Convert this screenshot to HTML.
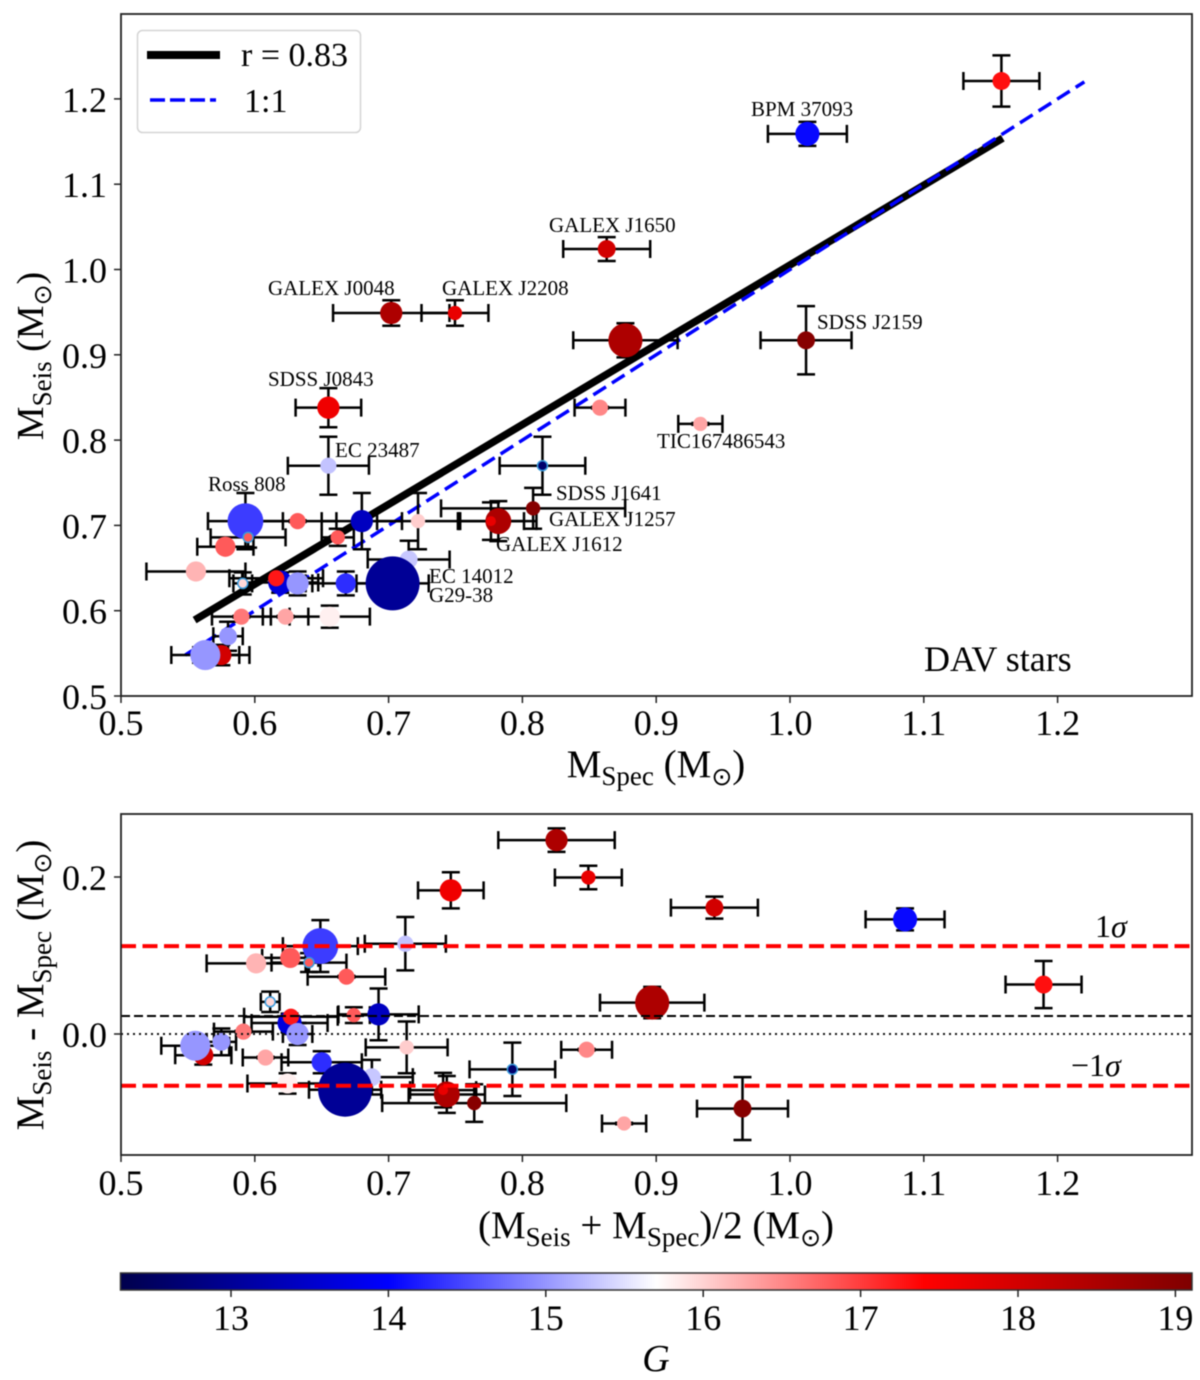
<!DOCTYPE html>
<html lang="en">
<head>
<meta charset="utf-8">
<title>DAV stars seismic vs spectroscopic mass</title>
<style>
html,body{margin:0;padding:0;background:#fff;}
svg{display:block;}
text{font-family:"Liberation Serif","DejaVu Serif",serif;fill:#000;}
.tick{font-size:36px;}
.axis{font-size:39px;}
.note{font-size:21px;}
</style>
</head>
<body>
<svg id="chart" xmlns="http://www.w3.org/2000/svg" width="1200" height="1380" viewBox="0 0 1200 1380">
  <defs>
    <linearGradient id="seismic" x1="0" x2="1" y1="0" y2="0">
      <stop offset="0" stop-color="rgb(0,0,76)"/>
      <stop offset="0.25" stop-color="rgb(0,0,255)"/>
      <stop offset="0.5" stop-color="rgb(255,255,255)"/>
      <stop offset="0.75" stop-color="rgb(255,0,0)"/>
      <stop offset="1" stop-color="rgb(127,0,0)"/>
    </linearGradient>
  </defs>
  <g id="root" style="filter:blur(0.45px)">
    <g id="top-lines"></g>
    <g id="top-bars"></g>
    <g id="top-points"></g>
    <g id="bottom-bars"></g>
    <g id="bottom-points"></g>
    <g id="bottom-lines"></g>
    <g id="axes"></g>

    <g>
      <text class="note" x="751" y="116">BPM 37093</text>
      <text class="note" x="549" y="232">GALEX J1650</text>
      <text class="note" x="268" y="295">GALEX J0048</text>
      <text class="note" x="442" y="295">GALEX J2208</text>
      <text class="note" x="817" y="329">SDSS J2159</text>
      <text class="note" x="268" y="386">SDSS J0843</text>
      <text class="note" x="657" y="448">TIC167486543</text>
      <text class="note" x="335" y="457">EC 23487</text>
      <text class="note" x="208" y="491">Ross 808</text>
      <text class="note" x="556" y="500">SDSS J1641</text>
      <text class="note" x="549" y="526">GALEX J1257</text>
      <text class="note" x="496" y="551">GALEX J1612</text>
      <text class="note" x="429" y="583">EC 14012</text>
      <text class="note" x="429" y="602">G29-38</text>
    </g>

    <g>
      <rect x="137.500" y="30.500" width="223" height="102" rx="5" fill="#fff" stroke="#d4d4d4" stroke-width="1.500"/>
      <line x1="147" x2="220" y1="55" y2="55" stroke="#000" stroke-width="8"/>
      <line x1="150" x2="216" y1="100" y2="100" stroke="#0000ff" stroke-width="3.500" stroke-dasharray="15 5"/>
      <text x="241" y="66" font-size="34">r = 0.83</text>
      <text x="244" y="112" font-size="34">1:1</text>
    </g>

    <text x="924" y="671" font-size="36">DAV stars</text>
    <text x="1095" y="937" font-size="32">1<tspan font-style="italic">σ</tspan></text>
    <text x="1071" y="1076" font-size="32">−1<tspan font-style="italic">σ</tspan></text>

    <text class="axis" x="656" y="777" text-anchor="middle">M<tspan font-size="27" dy="8">Spec</tspan><tspan dy="-8"> (M</tspan><tspan font-size="25" dy="8" font-family="DejaVu Sans">⊙</tspan><tspan dy="-8">)</tspan></text>
    <text class="axis" style="font-size:38px" transform="translate(43,356) rotate(-90)" text-anchor="middle">M<tspan font-size="27" dy="8">Seis</tspan><tspan dy="-8"> (M</tspan><tspan font-size="25" dy="8" font-family="DejaVu Sans">⊙</tspan><tspan dy="-8">)</tspan></text>
    <text class="axis" x="656" y="1238" text-anchor="middle">(M<tspan font-size="27" dy="8">Seis</tspan><tspan dy="-8"> + M</tspan><tspan font-size="27" dy="8">Spec</tspan><tspan dy="-8">)/2 (M</tspan><tspan font-size="25" dy="8" font-family="DejaVu Sans">⊙</tspan><tspan dy="-8">)</tspan></text>
    <text class="axis" transform="translate(43,985) rotate(-90)" text-anchor="middle">M<tspan font-size="27" dy="8">Seis</tspan><tspan dy="-8"> - M</tspan><tspan font-size="27" dy="8">Spec</tspan><tspan dy="-8"> (M</tspan><tspan font-size="25" dy="8" font-family="DejaVu Sans">⊙</tspan><tspan dy="-8">)</tspan></text>

    <rect x="120.500" y="1273" width="1071.500" height="17" fill="url(#seismic)" stroke="#333" stroke-width="1.500"/>
    <g id="colorbar-axis"></g>
    <text x="656" y="1371" font-size="38" font-style="italic" text-anchor="middle">G</text>
  </g>
</svg>
<script>
var starNames = ['wd-top-right','bpm-37093','galex-j1650','galex-j0048','galex-j2208','wd-0-88','sdss-j2159','wd-0-86','tic167486543','sdss-j0843','ec-23487','sdss-j1641','galex-j1257','galex-j1612','wd-0-78','ross-808','wd-0-60','wd-0-63','wd-0-68','wd-0-72','wd-0-66','wd-0-58a','wd-0-56','wd-0-59a','wd-0-62a','wd-0-62b','wd-0-63b','wd-0-67','ec-14012','g29-38','wd-0-59b','wd-0-62c','wd-0-66b','wd-0-58b','wd-0-56b','wd-0-58c'];
var mSpec = [1.158,1.013,0.863,0.702,0.7496,0.877,1.012,0.858,0.933,0.655,0.655,0.815,0.808,0.782,0.7765,0.593,0.595,0.632,0.680,0.722,0.662,0.578,0.556,0.591,0.619,0.616,0.632,0.668,0.715,0.703,0.590,0.623,0.656,0.580,0.575,0.563];
var mSeis = [1.221,1.159,1.024,0.949,0.949,0.917,0.917,0.838,0.819,0.838,0.770,0.770,0.720,0.705,0.705,0.705,0.686,0.705,0.705,0.705,0.686,0.675,0.646,0.632,0.633,0.638,0.632,0.632,0.660,0.632,0.593,0.593,0.593,0.570,0.548,0.548];
var xErr = [0.0284,0.0295,0.0325,0.0435,0.025,0.039,0.034,0.019,0.0165,0.0245,0.0303,0.032,0.0688,0.0285,0.0247,0.028,0.028,0.029,0.030,0.0306,0.012,0.021,0.037,0.007,0.0284,0.035,0.011,0.030,0.0306,0.027,0.022,0.017,0.030,0.011,0.021,0.0254];
var yErr = [0.030,0.014,0.014,0.015,0.015,0.020,0.040,0.001,0.001,0.023,0.034,0.034,0.024,0.0235,0.022,0.033,0.012,0.001,0.033,0.033,0.010,0.001,0.001,0.013,0.012,0.001,0.014,0.014,0.022,0.012,0.001,0.001,0.013,0.017,0.012,0.010];
var gMag = [17.3,14.05,18.0,18.5,17.7,18.5,19.0,16.5,16.3,17.6,15.3,12.6,19.0,18.5,17.7,14.4,16.8,16.8,13.4,16.03,16.8,16.8,16.2,15.97,13.66,17.25,15.0,14.3,15.33,13.0,16.6,16.3,15.8,15.0,18.0,15.0];
var modeCount = [11,20,11,17,7,40,11,9,7,17,9,3.4,7,23,3.4,44,3.4,9,17,7,7,14,14,3.4,20,9,17,14,11,100,9,9,14,11,14,31];
var edgedStars = [0,0,0,0,0,0,0,0,0,0,0,1,0,0,0,0,1,0,0,0,0,0,0,1,0,0,0,0,0,0,0,0,0,0,0,0];

var fitSpec = [0.555,1.159];
var fitSeis = [0.589,1.154];
var oneToOne = [0.548,1.22];
var meanOffset = [0.023];
var zeroOffset = [0];
var sigmaOffsets = [0.112,-0.066];

var xTickLabels = ['0.5','0.6','0.7','0.8','0.9','1.0','1.1','1.2'];
var yTopTickLabels = ['0.5','0.6','0.7','0.8','0.9','1.0','1.1','1.2'];
var yBottomTickLabels = ['0.0','0.2'];
var colorbarTickLabels = ['13','14','15','16','17','18','19'];

var SVGNS = 'http://www.w3.org/2000/svg';

function xAxis(v){ return 121 + (v - 0.5) * 1338; }
function yTop(v){ return 696 - (v - 0.5) * 853; }
function yBottom(v){ return 1034 - v * 785; }
function gAxis(v){ return 231 + (v - 13) * 157.4; }
function radius(v){ return Math.sqrt(v) * 2.7; }

function seismic(g){
  var t = Math.max(0, Math.min(1, (g - 12.3) / 6.8));
  var s = [[0,0,76.5],[0,0,255],[255,255,255],[255,0,0],[127.5,0,0]];
  var i = Math.min(3, Math.floor(t * 4));
  var f = t * 4 - i;
  var c = [0,1,2].map(function(k){ return Math.round(s[i][k] + (s[i+1][k] - s[i][k]) * f); });
  return 'rgb(' + c.join(',') + ')';
}

function shape(parent, tag, attrs){
  var el = document.createElementNS(SVGNS, tag);
  Object.keys(attrs).forEach(function(k){ el.setAttribute(k, attrs[k]); });
  parent.appendChild(el);
  return el;
}

function line(parent, x1, y1, x2, y2, color, width, dash, name){
  var el = shape(parent, 'line', {x1:x1, y1:y1, x2:x2, y2:y2, stroke:color, 'stroke-width':width});
  if (dash) el.setAttribute('stroke-dasharray', dash);
  
  
  return el;
}

function errorBars(parent, cx, cy, dx, dy, name){
  var g = shape(parent, 'g', {stroke:'#000', 'stroke-width':2.5, fill:'none'});
  
  
  var cap = 9;
  shape(g, 'path', {d:
    'M' + (cx-dx) + ' ' + cy + 'H' + (cx+dx) +
    'M' + (cx-dx) + ' ' + (cy-cap) + 'V' + (cy+cap) +
    'M' + (cx+dx) + ' ' + (cy-cap) + 'V' + (cy+cap) +
    'M' + cx + ' ' + (cy-dy) + 'V' + (cy+dy) +
    'M' + (cx-cap) + ' ' + (cy-dy) + 'H' + (cx+cap) +
    'M' + (cx-cap) + ' ' + (cy+dy) + 'H' + (cx+cap)
  });
}

function point(parent, cx, cy, i, name){
  var el = shape(parent, 'circle', {cx:cx, cy:cy, r:radius(modeCount[i]), fill:seismic(gMag[i])});
  if (edgedStars[i]) {
    el.setAttribute('stroke', '#3a9bdc');
    el.setAttribute('stroke-width', '1.5');
  }
  
  
}

var topLines = document.getElementById('top-lines');
line(topLines, xAxis(fitSpec[0]), yTop(fitSeis[0]), xAxis(fitSpec[1]), yTop(fitSeis[1]), '#000', 7.5, null, 'fit-line');
line(topLines, xAxis(oneToOne[0]), yTop(oneToOne[0]), xAxis(oneToOne[1]), yTop(oneToOne[1]), '#0000ff', 3.5, '15 7', 'one-to-one-line');

var topBars = document.getElementById('top-bars');
var topPoints = document.getElementById('top-points');
var bottomBars = document.getElementById('bottom-bars');
var bottomPoints = document.getElementById('bottom-points');

mSpec.forEach(function(spec, i){
  var seis = mSeis[i];
  var mean = (seis + spec) / 2;
  var diff = seis - spec;
  errorBars(topBars, xAxis(spec), yTop(seis), xErr[i] * 1338, yErr[i] * 853, 'top-error-' + starNames[i]);
  errorBars(bottomBars, xAxis(mean), yBottom(diff), xErr[i] * 1338, yErr[i] * 785, 'bottom-error-' + starNames[i]);
  point(topPoints, xAxis(spec), yTop(seis), i, 'top-point-' + starNames[i]);
  point(bottomPoints, xAxis(mean), yBottom(diff), i, 'bottom-point-' + starNames[i]);
});

var bottomLines = document.getElementById('bottom-lines');
line(bottomLines, 121, yBottom(meanOffset[0]), 1192, yBottom(meanOffset[0]), '#000', 2, '9 4', 'mean-offset-line');
line(bottomLines, 121, yBottom(zeroOffset[0]), 1192, yBottom(zeroOffset[0]), '#111', 2, '2 4', 'zero-offset-line');
sigmaOffsets.forEach(function(v, i){
  line(bottomLines, 121, yBottom(v), 1192, yBottom(v), '#ff0000', 4, '15 6.5', i === 0 ? 'plus-sigma-line' : 'minus-sigma-line');
});

var axes = document.getElementById('axes');

function frame(top, bottom, name){
  var el = shape(axes, 'rect', {x:121, y:top, width:1071, height:bottom-top, fill:'none', stroke:'#222', 'stroke-width':1.8});
  
  
}
frame(14, 696, 'top-panel-frame');
frame(814, 1155, 'bottom-panel-frame');

function label(parent, x, y, anchor, content, name){
  var el = shape(parent, 'text', {x:x, y:y, 'text-anchor':anchor, 'class':'tick'});
  el.textContent = content;
  
  
}

xTickLabels.forEach(function(t){
  var px = xAxis(parseFloat(t));
  line(axes, px, 696, px, 703, '#222', 1.5, null, 'top-x-tick-' + t);
  label(axes, px, 735, 'middle', t, 'top-x-tick-label-' + t);
  line(axes, px, 1155, px, 1162, '#222', 1.5, null, 'bottom-x-tick-' + t);
  label(axes, px, 1195, 'middle', t, 'bottom-x-tick-label-' + t);
});
yTopTickLabels.forEach(function(t){
  var py = yTop(parseFloat(t));
  line(axes, 114, py, 121, py, '#222', 1.5, null, 'top-y-tick-' + t);
  label(axes, 107, py + 13, 'end', t, 'top-y-tick-label-' + t);
});
yBottomTickLabels.forEach(function(t){
  var py = yBottom(parseFloat(t));
  line(axes, 114, py, 121, py, '#222', 1.5, null, 'bottom-y-tick-' + t);
  label(axes, 107, py + 13, 'end', t, 'bottom-y-tick-label-' + t);
});

var cbAxis = document.getElementById('colorbar-axis');
colorbarTickLabels.forEach(function(t){
  var px = gAxis(parseFloat(t));
  line(cbAxis, px, 1290, px, 1297, '#222', 1.5, null, 'colorbar-tick-' + t);
  label(cbAxis, px, 1330, 'middle', t, 'colorbar-tick-label-' + t);
});
</script>
</body>
</html>
